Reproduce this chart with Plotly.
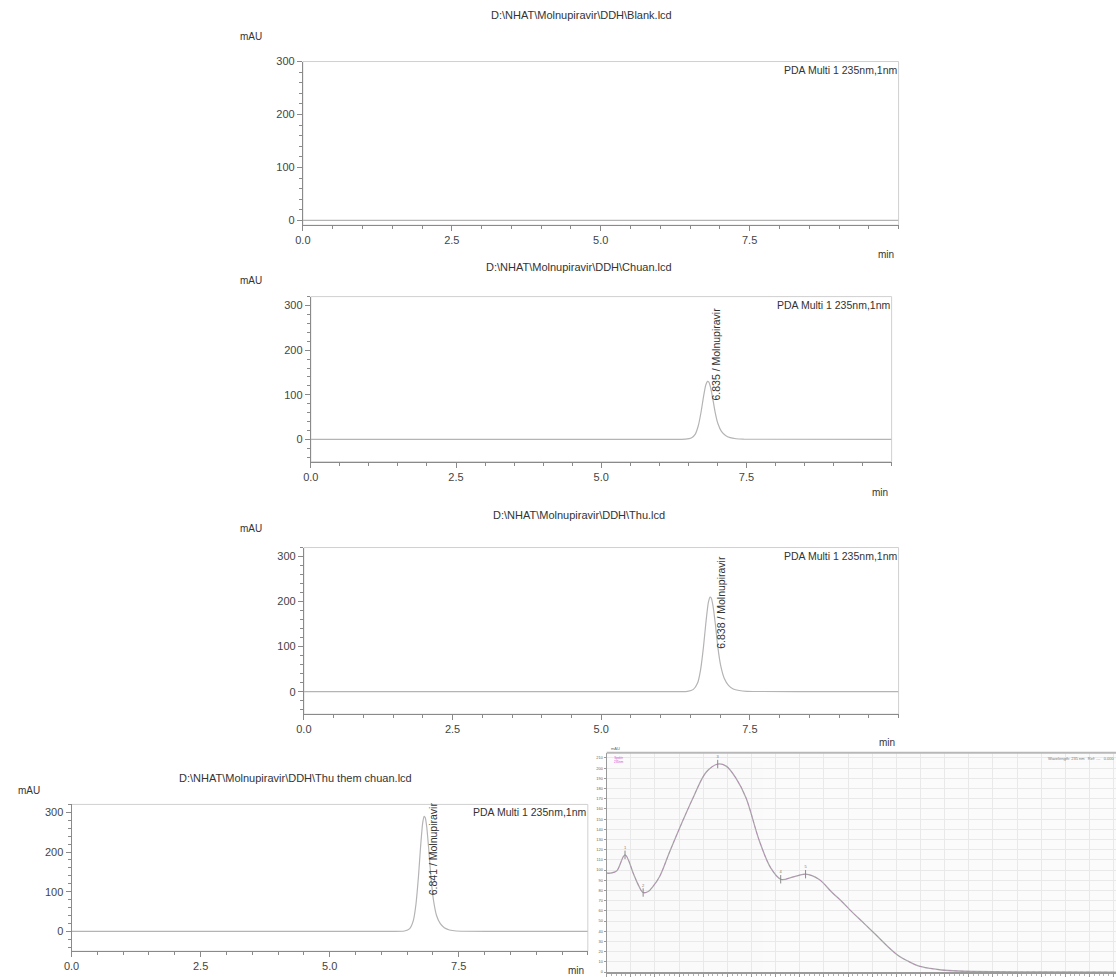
import plotly.graph_objects as go

W, H = 1116, 978

# ---------------- data ----------------
files = [
    "D:\\NHAT\\Molnupiravir\\DDH\\Blank.lcd",
    "D:\\NHAT\\Molnupiravir\\DDH\\Chuan.lcd",
    "D:\\NHAT\\Molnupiravir\\DDH\\Thu.lcd",
    "D:\\NHAT\\Molnupiravir\\DDH\\Thu them chuan.lcd",
]
channel_label = "PDA Multi 1 235nm,1nm"
peak_labels = [None, "6.835 / Molnupiravir", "6.838 / Molnupiravir", "6.841 / Molnupiravir"]

blank_time = [0.0, 5.0, 10.0]
blank_mau = [0.0, 0.0, 0.0]

peak_time = [0.0, 3.0, 6.0, 6.45, 6.55, 6.62, 6.67, 6.72, 6.76, 6.80, 6.83, 6.85, 6.88,
             6.92, 6.96, 7.01, 7.07, 7.14, 7.22, 7.32, 7.45, 10.0]
chuan_mau = [0, 0, 0, 0.5, 3, 12, 30, 62, 95, 122, 130, 129, 118,
             92, 62, 35, 18, 9, 4, 1.5, 0.5, 0]
thu_mau = [0, 0, 0, 0.8, 5, 19, 48, 100, 153, 197, 210, 208, 190,
           149, 100, 57, 29, 14, 6, 2.5, 0.8, 0]
thu_them_mau = [0, 0, 0, 1, 7, 27, 67, 139, 212, 272, 290, 287, 263,
                205, 138, 79, 40, 20, 9, 3.5, 1, 0]

x_ticks = [0.0, 2.5, 5.0, 7.5]
x_tick_text = ["0.0", "2.5", "5.0", "7.5"]
y_ticks = [0, 100, 200, 300]

spec_nm = [190.0, 191.5, 194.1, 197.6, 201.0, 203.0, 205.1, 207.2, 209.2, 212.0, 216.1,
           220.9, 226.0, 231.2, 236.0, 239.5, 243.6, 247.7, 253.2, 258.0, 262.1, 266.9,
           272.4, 277.9, 283.4, 287.5, 291.6, 296.5, 301.3, 306.0, 310.9, 315.0, 319.1,
           324.0, 328.7, 335.6, 350.0, 370.0, 401.0]
spec_abs = [97, 97, 99, 115, 97, 86, 78, 79, 84, 94, 118,
            145, 172, 196, 204, 202, 190, 171, 129, 102, 91, 93,
            96, 91, 78, 69, 59, 48, 37, 26, 16, 10.5, 6,
            3.5, 2, 1, 0.3, 0.1, 0]
spec_peak_nm = [197.6, 205.1, 236.0, 262.1, 272.4]
spec_peak_abs = [115, 78, 204, 91, 96]
spec_peak_tag = ["1", "2", "3", "4", "5"]

# ---------------- layout geometry (pixels) ----------------
def px(x):
    return x / W

def py(y):
    return 1 - y / H

panels = [
    dict(x0=297, x1=897, top=56, bot=221, yr=[-9, 300], t=blank_time, v=blank_mau,
         title_xy=(578, 9), mau_xy=(245, 31), min_xy=(884, 251), lab_x=None, lab_y=None),
    dict(x0=305, x1=890, top=293, bot=459.5, yr=[-50, 320], t=peak_time, v=chuan_mau,
         title_xy=(575, 263), mau_xy=(245, 277), min_xy=(878, 491), lab_x=6.98, lab_y=82),
    dict(x0=298, x1=897, top=546, bot=714, yr=[-50, 320], t=peak_time, v=thu_mau,
         title_xy=(575, 513), mau_xy=(245, 527), min_xy=(885, 743), lab_x=7.0, lab_y=90),
    dict(x0=64, x1=584, top=805, bot=953, yr=[-50, 320], t=peak_time, v=thu_them_mau,
         title_xy=(290, 778), mau_xy=(21, 791), min_xy=(572, 972), lab_x=7.0, lab_y=87),
]

fig = go.Figure()
layout = dict(
    width=W, height=H,
    margin=dict(l=0, r=0, t=0, b=0),
    paper_bgcolor="white", plot_bgcolor="white",
    showlegend=False,
    font=dict(family="Liberation Sans, Arial, sans-serif", color="#333"),
)
annotations = []
shapes = []

axis_col = "#8a8a8a"
frame_col = "#d0d0d0"
trace_col = "#b4b4b4"

for i, p in enumerate(panels):
    n = i + 1
    xa = "xaxis" if n == 1 else f"xaxis{n}"
    ya = "yaxis" if n == 1 else f"yaxis{n}"
    xr = "x" if n == 1 else f"x{n}"
    yr = "y" if n == 1 else f"y{n}"
    layout[xa] = dict(
        domain=[px(p["x0"]), px(p["x1"])], anchor=yr, range=[0, 10],
        tickvals=x_ticks, ticktext=x_tick_text, ticks="outside", ticklen=5,
        tickcolor=axis_col, showline=True, linecolor=axis_col, linewidth=1,
        showgrid=False, zeroline=False, tickfont=dict(size=11, color="#444"),
        minor=dict(dtick=0.5, ticks="outside", ticklen=3, tickcolor=axis_col),
        fixedrange=True,
    )
    layout[ya] = dict(
        domain=[py(p["bot"]), py(p["top"])], anchor=xr, range=p["yr"],
        tickvals=y_ticks, ticks="outside", ticklen=5, tickcolor=axis_col,
        showline=True, linecolor=axis_col, linewidth=1,
        showgrid=False, zeroline=False, tickfont=dict(size=11, color="#444"),
        minor=dict(dtick=20, ticks="outside", ticklen=3, tickcolor=axis_col),
        fixedrange=True,
    )
    shapes.append(dict(type="rect", xref=f"{xr} domain", yref=f"{yr} domain",
                       x0=0, x1=1, y0=0, y1=1, line=dict(color=frame_col, width=1),
                       layer="below"))
    fig.add_trace(go.Scatter(x=p["t"], y=p["v"], xaxis=xr, yaxis=yr, mode="lines",
                             line=dict(color=trace_col, width=1.2, shape="spline", smoothing=0.5),
                             hoverinfo="skip"))
    annotations.append(dict(text=files[i], xref="paper", yref="paper",
                            x=px(p["title_xy"][0]), y=py(p["title_xy"][1]),
                            xanchor="center", yanchor="middle", showarrow=False,
                            font=dict(size=11, color="#333")))
    annotations.append(dict(text="mAU", xref="paper", yref="paper",
                            x=px(p["mau_xy"][0]), y=py(p["mau_xy"][1]),
                            xanchor="center", yanchor="middle", showarrow=False,
                            font=dict(size=10, color="#333")))
    annotations.append(dict(text="min", xref="paper", yref="paper",
                            x=px(p["min_xy"][0]), y=py(p["min_xy"][1]),
                            xanchor="center", yanchor="middle", showarrow=False,
                            font=dict(size=10, color="#333")))
    annotations.append(dict(text=channel_label, xref=f"{xr} domain", yref=f"{yr} domain",
                            x=1, y=1, xanchor="right", yanchor="top", showarrow=False,
                            font=dict(size=10.5, color="#333")))
    if peak_labels[i]:
        annotations.append(dict(text=peak_labels[i], xref=xr, yref=yr,
                                x=p["lab_x"], y=p["lab_y"], textangle=-90,
                                xanchor="center", yanchor="bottom", showarrow=False,
                                font=dict(size=10.5, color="#333")))

# ---------------- spectrum panel ----------------
layout["xaxis5"] = dict(
    domain=[px(603), 1.0], anchor="y5", range=[190, 401],
    dtick=10, showgrid=True, gridcolor="#e9e9e9", gridwidth=1,
    showline=True, linecolor="#9a9a9a", linewidth=1.5,
    ticks="outside", ticklen=3, tickcolor="#9a9a9a", showticklabels=False,
    minor=dict(dtick=2, ticks="outside", ticklen=2, tickcolor="#b0b0b0"),
    zeroline=False, fixedrange=True,
)
layout["yaxis5"] = dict(
    domain=[py(974), py(753)], anchor="x5", range=[0, 215],
    dtick=10, showgrid=True, gridcolor="#e9e9e9", gridwidth=1,
    showline=True, linecolor="#9a9a9a", linewidth=1,
    ticks="outside", ticklen=2, tickcolor="#9a9a9a",
    tickfont=dict(size=4, color="#666"),
    zeroline=False, fixedrange=True,
)
shapes.append(dict(type="rect", xref="x5 domain", yref="y5 domain", x0=0, x1=1, y0=0, y1=1,
                   fillcolor="#fbfbfb", line=dict(width=0), layer="below"))
shapes.append(dict(type="line", xref="x5 domain", yref="y5 domain", x0=0, x1=1, y0=1, y1=1,
                   line=dict(color="#b8b8b8", width=2)))
fig.add_trace(go.Scatter(x=spec_nm, y=spec_abs, xaxis="x5", yaxis="y5", mode="lines",
                         line=dict(color="#a8a8a8", width=1.3, shape="spline", smoothing=1.0),
                         hoverinfo="skip"))
fig.add_trace(go.Scatter(x=spec_nm, y=spec_abs, xaxis="x5", yaxis="y5", mode="lines",
                         line=dict(color="#d24ad2", width=0.7, shape="spline", smoothing=1.0,
                                   dash="dot"),
                         opacity=0.4, hoverinfo="skip"))
fig.add_trace(go.Scatter(x=spec_peak_nm, y=spec_peak_abs, xaxis="x5", yaxis="y5",
                         mode="markers+text", text=spec_peak_tag, textposition="top center",
                         textfont=dict(size=4, color="#777"),
                         marker=dict(symbol="line-ns", size=6,
                                     line=dict(color="#8a8a8a", width=1)),
                         hoverinfo="skip"))
annotations.append(dict(text="mAU", xref="x5 domain", yref="y5 domain", x=0.005, y=1.0,
                        xanchor="left", yanchor="bottom", showarrow=False,
                        font=dict(size=4, color="#666")))
annotations.append(dict(text="Spektr<br>235nm", xref="x5 domain", yref="y5 domain", x=0.01, y=0.995,
                        xanchor="left", yanchor="top", showarrow=False,
                        font=dict(size=3, color="#d24ad2")))
annotations.append(dict(text="Wavelength: 235 nm   Ref: ---   0.000", xref="x5 domain", yref="y5 domain",
                        x=1.0, y=0.995, xanchor="right", yanchor="top", showarrow=False,
                        font=dict(size=4, color="#777")))

layout["annotations"] = annotations
layout["shapes"] = shapes
fig.update_layout(**layout)
fig.write_html(
    "out.html",
    config={"displayModeBar": False},
    post_script="document.body.style.margin='0';document.body.style.overflow='hidden';",
)
